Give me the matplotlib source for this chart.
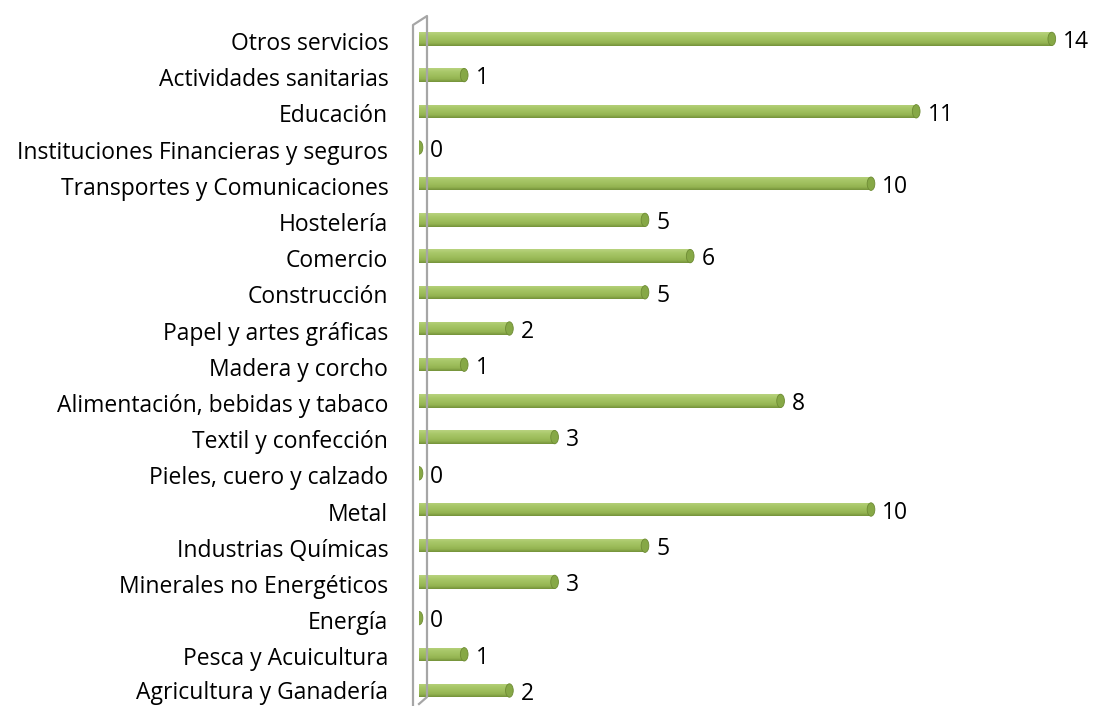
import numpy as np
import matplotlib
matplotlib.use("Agg")
import matplotlib.pyplot as plt
from matplotlib.patches import Ellipse
from matplotlib.lines import Line2D
from matplotlib.colors import LinearSegmentedColormap

categories = [
    "Agricultura y Ganadería",
    "Pesca y Acuicultura",
    "Energía",
    "Minerales no Energéticos",
    "Industrias Químicas",
    "Metal",
    "Pieles, cuero y calzado",
    "Textil y confección",
    "Alimentación, bebidas y tabaco",
    "Madera y corcho",
    "Papel y artes gráficas",
    "Construcción",
    "Comercio",
    "Hostelería",
    "Transportes y Comunicaciones",
    "Instituciones Financieras y seguros",
    "Educación",
    "Actividades sanitarias",
    "Otros servicios",
]
values = [2, 1, 0, 3, 5, 10, 0, 3, 8, 1, 2, 5, 6, 5, 10, 0, 11, 1, 14]

W, H = 1094, 706
fig = plt.figure(figsize=(W / 100, H / 100), dpi=100)
plt.rcParams['font.family'] = ['Open Sans', 'DejaVu Sans']

left_px, top_px, bottom_px = 419, 10, 706
ax = fig.add_axes([left_px / W, 1 - bottom_px / H, 1 - left_px / W, (bottom_px - top_px) / H])
px_per_unit = 45.2
row0_y, row_sp = 690.5, 36.2
ax.set_xlim(0, (W - left_px) / px_per_unit)
ax.set_ylim(-(bottom_px - row0_y) / row_sp, 18 + (row0_y - row_sp * 18 - top_px) / row_sp)
ax.axis('off')

bar_h = 0.37
cmap = LinearSegmentedColormap.from_list(
    "cyl", [(0.0, "#B9D37F"), (0.25, "#A9C86A"), (0.55, "#9EBE5C"),
            (0.8, "#92B250"), (1.0, "#74913A")])
grad = np.linspace(0, 1, 64).reshape(-1, 1)
y = np.arange(len(categories))
bars = ax.barh(y, values, height=bar_h, color="#9BBB59", edgecolor="none", zorder=2)
for b, v, yi in zip(bars, values, y):
    if v > 0:
        im = ax.imshow(grad, extent=(0, v, yi - bar_h / 2, yi + bar_h / 2), aspect='auto',
                       cmap=cmap, origin='upper', zorder=3, interpolation='bilinear')
        im.set_clip_path(b)
    cap_w = 0.17
    ax.add_patch(Ellipse((v, yi), cap_w, bar_h, facecolor="#86A846",
                         edgecolor="#6E8B34", linewidth=0.6, zorder=4))
    ax.text(v + 0.25, yi - 0.09, str(v), va='center', ha='left', fontsize=16.5,
            color='#000000', zorder=5)

for yi, c in zip(y, categories):
    ax.text(-0.68, yi - (0.14 if yi > 0 else 0.06), c, va='center', ha='right',
            fontsize=16.5, color='#000000', transform=ax.transData, clip_on=False)

# 3D wall outline
pts = [(413, 706), (413, 25), (427, 16), (427, 697), (419, 704)]
fx = [p[0] / W for p in pts]
fy = [1 - p[1] / H for p in pts]
fig.add_artist(Line2D(fx, fy, transform=fig.transFigure, color="#A6A6A6", linewidth=1.6,
                      zorder=1))

fig.savefig("out.png", dpi=100)
